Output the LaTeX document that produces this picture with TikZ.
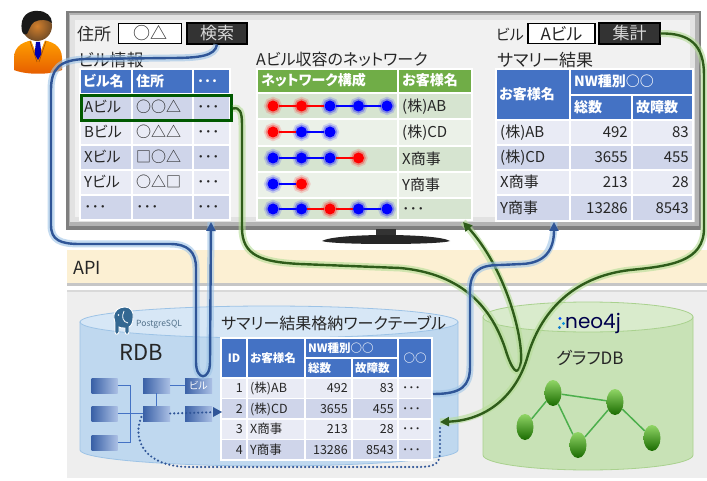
\documentclass[tikz,border=0pt]{standalone}
\usepackage{fontspec}
\setmainfont{Noto Sans CJK JP}[RawFeature=+palt]
\newfontfamily\logofont{Poppins}
\usetikzlibrary{arrows.meta,shapes.geometric,calc}
\newcommand\setfs[1]{\fontsize{#1}{#1}\selectfont}

\definecolor{hdrblue}{HTML}{4472C4}
\definecolor{rowdark}{HTML}{CFD5EA}
\definecolor{rowlight}{HTML}{E9EBF5}
\definecolor{hdrgreen}{HTML}{70AD47}
\definecolor{grndark}{HTML}{D6E4D0}
\definecolor{grnlight}{HTML}{EBF1E8}
\definecolor{wireblue}{HTML}{2F5597}
\definecolor{glowblue}{HTML}{9DC3E6}
\definecolor{wiregreen}{HTML}{2F5C1A}
\definecolor{glowgreen}{HTML}{B4DC96}
\definecolor{apibg}{HTML}{FCF0D3}
\definecolor{panelbg}{HTML}{EEEEEE}
\definecolor{screenbg}{HTML}{F1F1F1}
\definecolor{framegray}{HTML}{7F7F7F}
\definecolor{txt}{HTML}{262626}
\definecolor{btnbg}{HTML}{333333}
\definecolor{btntxt}{HTML}{D9D9D9}
\definecolor{dotred}{HTML}{FF0000}
\definecolor{dotblue}{HTML}{0000FF}
\definecolor{rdbbody}{HTML}{BFD8EF}
\definecolor{rdbtop}{HTML}{D7E7F6}
\definecolor{rdbline}{HTML}{9DC3E6}
\definecolor{gdbbody}{HTML}{C8E2B6}
\definecolor{gdbtop}{HTML}{D9EBCC}
\definecolor{gdbline}{HTML}{A9D18E}
\definecolor{pgblue}{HTML}{336791}

\begin{document}
\begin{tikzpicture}[x=1pt, y=-1pt,
  tx/.style={inner sep=0pt, text=txt},
  hd/.style={inner sep=0pt, text=white, font=\setfs{14}\bfseries},
  hds/.style={inner sep=0pt, text=white, font=\setfs{11.5}\bfseries},
  cellbg/.style={draw=white, line width=1.2pt},
  inbox/.style={draw=black, line width=1.6pt, fill=white, inner sep=0pt,
    minimum height=20pt, font=\setfs{17}, text=txt},
  btn/.style={draw=black, line width=1.2pt, fill=btnbg, text=btntxt, inner sep=0pt,
    minimum height=21pt, font=\setfs{17}},
  ndot/.style={circle, inner sep=0pt, minimum size=11pt, fill=dot#1,
    preaction={draw=dot#1, line width=7pt, opacity=.15},
    preaction={draw=dot#1, line width=3.5pt, opacity=.3}},
  seg/.style={draw=dot#1, line width=2.2pt},
  gnode/.style={ellipse, inner sep=0pt, minimum width=17pt, minimum height=26pt,
    top color=green!45!olive!60!white, bottom color=green!40!black!80!olive},
  gedge/.style={draw=green!55!black!70!white, line width=1.5pt},
  rbox/.style={inner sep=0pt, minimum width=26pt, minimum height=15pt,
    left color=hdrblue!85!black, right color=hdrblue!45!white},
  rline/.style={draw=hdrblue, line width=1pt},
  tipB/.style={-{Triangle[length=9pt,width=9pt]}},
  wireb/.style={draw=wireblue, line width=2.4pt, line join=round,
    preaction={draw=glowblue, line width=7pt, opacity=.6, arrows=-}},
  wireg/.style={draw=wiregreen, line width=2.4pt, line join=round,
    preaction={draw=glowgreen, line width=7pt, opacity=.6, arrows=-}},
  dotwire/.style={draw=wireblue, line width=2.4pt, line cap=round,
    dash pattern=on 0pt off 4pt}
]
\useasboundingbox (0,0) rectangle (707,481);
\fill[white] (0,0) rectangle (707,481);

% ---------- API band and lower panel ----------
\fill[apibg] (67,250) rectangle (707,283);
\fill[gray!45] (67,283) rectangle (707,286);
\fill[panelbg] (67,291) rectangle (707,478);
\fill[gray!30] (67,290) rectangle (707,292);
\node[tx, font=\setfs{18}, anchor=base west] (api) at (73,274) {API};

% ---------- monitor ----------
\fill[framegray] (66,11) rectangle (701,230);
\fill[gray!60] (69,13) rectangle (699,226);
\fill[screenbg] (70,15) rectangle (695,222);
\draw[black, opacity=.06, line width=5pt] (72.5,17.5) rectangle (692.5,219.5);
\fill[black!80] (376,229) rectangle (396,237);
\fill[black!85] (322,241) .. controls (335,233) and (437,233) .. (450,241)
  .. controls (440,245) and (332,245) .. (322,241) -- cycle;

% ---------- user icon ----------
\path[top color=orange!75!yellow, bottom color=orange!80!red!90!black]
  (14,70) -- (14,58) .. controls (14,46) and (24,40) .. (38,40)
  .. controls (52,40) and (62,46) .. (62,58) -- (62,70)
  .. controls (50,75) and (26,75) .. (14,70) -- cycle;
\fill[white] (31,40) -- (45,40) -- (38,58) -- cycle;
\fill[blue!70!black] (36,42) -- (40,42) -- (41.5,54) -- (38,60) -- (34.5,54) -- cycle;
\draw[orange!60!black, line width=.6pt] (30,41) -- (37,62) (46,41) -- (39,62);
\shade[inner color=brown!70!orange, outer color=brown!60!black] (37,26) circle (15);
\fill[black!90] (22,31) .. controls (19,16) and (29,10) .. (38,11)
  .. controls (46,11) and (52,16) .. (52,23) .. controls (47,19) and (40,19) .. (34,22)
  .. controls (31,24) and (29,30) .. (27,34) .. controls (24,35) and (23,34) .. cycle;

% ---------- search form ----------
\node[tx, font=\setfs{17}, anchor=base west] (lblAddr) at (77,41) {住所};
\node[inbox, minimum width=63pt] (inAddr) at (150,33.5) {○△};
\node[btn, minimum width=60pt] (btnSearch) at (217,33.5) {検索};
\node[tx, font=\setfs{17}, anchor=base west] (ttlBldg) at (78,66.5) {ビル情報};

% ---------- building table ----------
\foreach \xa/\xb in {80/132,132/193,193/230}
  \path[cellbg, fill=hdrblue] (\xa,69) rectangle (\xb,94);
\node[hd, anchor=base west] (bh1) at (83,86.5) {ビル名};
\node[hd, anchor=base west] (bh2) at (136,86.5) {住所};
\node[hd, anchor=base west] (bh3) at (197,86.5) {･･･};
\foreach \ya/\yb/\col/\ca/\cb/\cc [count=\r] in {
    94/120/rowdark/Aビル/○○△/･･･,
    120/145/rowlight/Bビル/○△△/･･･,
    145/170/rowdark/Xビル/□○△/･･･,
    170/195/rowlight/Yビル/○△□/･･･,
    195/220/rowdark/･･･/･･･/･･･}{
  \foreach \xa/\xb in {80/132,132/193,193/230}
    \path[cellbg, fill=\col] (\xa,\ya) rectangle (\xb,\yb);
  \node[tx, font=\setfs{15}, anchor=base west] (b\r-1) at (84,{(\ya+\yb)/2+5.5}) {\ca};
  \node[tx, font=\setfs{15}, anchor=base west] (b\r-2) at (136,{(\ya+\yb)/2+5.5}) {\cb};
  \node[tx, font=\setfs{15}, anchor=base west] (b\r-3) at (197,{(\ya+\yb)/2+5.5}) {\cc};
}
\node[draw=green!35!black, line width=3pt, inner sep=0pt, minimum width=150pt,
  minimum height=25pt, anchor=north west] (selA) at (80,94.5) {};

% ---------- network table ----------
\node[tx, font=\setfs{16}, anchor=base west] (ttlNet) at (256,66) {Aビル収容のネットワーク};
\path[cellbg, fill=hdrgreen] (257,69) rectangle (398,93);
\path[cellbg, fill=hdrgreen] (398,69) rectangle (472,93);
\node[hd, anchor=base west] (nh1) at (261,86) {ネットワーク構成};
\node[hd, anchor=base west] (nh2) at (402,86) {お客様名};
\foreach \ya/\yb/\col/\cn [count=\r] in {
    93/119/grndark/(株)AB,
    119/146/grnlight/(株)CD,
    146/172/grndark/X商事,
    172/198/grnlight/Y商事,
    198/220/grndark/･･･}{
  \path[cellbg, fill=\col] (257,\ya) rectangle (398,\yb);
  \path[cellbg, fill=\col] (398,\ya) rectangle (472,\yb);
  \node[tx, font=\setfs{15}, anchor=base west] (nc\r) at (402,{(\ya+\yb)/2+5.5}) {\cn};
}
\foreach \c [count=\k] in {red,red,blue,blue,blue}
  \node[ndot=\c] (n1-\k) at ({273+28.5*(\k-1)},106) {};
\foreach \c [count=\k] in {red,blue,blue}
  \node[ndot=\c] (n2-\k) at ({273+28.5*(\k-1)},132) {};
\foreach \c [count=\k] in {blue,blue,blue,red}
  \node[ndot=\c] (n3-\k) at ({273+28.5*(\k-1)},158) {};
\foreach \c [count=\k] in {blue,red}
  \node[ndot=\c] (n4-\k) at ({273+28.5*(\k-1)},184) {};
\foreach \c [count=\k] in {blue,blue,red,blue,blue}
  \node[ndot=\c] (n5-\k) at ({273+28.5*(\k-1)},209) {};
\draw[seg=red] (n1-1) -- (n1-2);  \draw[seg=red] (n1-2) -- (n1-3);
\draw[seg=blue] (n1-3) -- (n1-4); \draw[seg=blue] (n1-4) -- (n1-5);
\draw[seg=red] (n2-1) -- (n2-2);  \draw[seg=blue] (n2-2) -- (n2-3);
\draw[seg=blue] (n3-1) -- (n3-2); \draw[seg=blue] (n3-2) -- (n3-3);
\draw[seg=red] (n3-3) -- (n3-4);
\draw[seg=blue] (n4-1) -- (n4-2);
\draw[seg=blue] (n5-1) -- (n5-2); \draw[seg=red] (n5-2) -- (n5-3);
\draw[seg=red] (n5-3) -- (n5-4);  \draw[seg=blue] (n5-4) -- (n5-5);

% ---------- summary form and table ----------
\node[tx, font=\setfs{15}, anchor=base east] (lblBldg) at (524,40.5) {ビル};
\node[inbox, minimum width=67pt] (inBldg) at (561.5,33.5) {Aビル};
\node[btn, minimum width=61pt] (btnSum) at (629.5,33.5) {集計};
\node[tx, font=\setfs{17}, anchor=base west] (ttlSum) at (497,66.5) {サマリー結果};
\path[cellbg, fill=hdrblue] (496,69) rectangle (570,120);
\path[cellbg, fill=hdrblue] (570,69) rectangle (693,95);
\path[cellbg, fill=hdrblue] (570,95) rectangle (632,120);
\path[cellbg, fill=hdrblue] (632,95) rectangle (693,120);
\node[hd, anchor=base west] (sh1) at (499,99.5) {お客様名};
\node[hd, anchor=base west] (sh2) at (574,87) {NW種別○○};
\node[hd, anchor=base west] (sh3) at (574,112.5) {総数};
\node[hd, anchor=base west] (sh4) at (636,112.5) {故障数};
\foreach \ya/\yb/\col/\cn/\ct/\cf [count=\r] in {
    120/145/rowlight/(株)AB/492/83,
    145/170/rowdark/(株)CD/3655/455,
    170/195/rowlight/X商事/213/28,
    195/221/rowdark/Y商事/13286/8543}{
  \foreach \xa/\xb in {496/570,570/632,632/693}
    \path[cellbg, fill=\col] (\xa,\ya) rectangle (\xb,\yb);
  \node[tx, font=\setfs{15}, anchor=base west] (s\r-1) at (500,{(\ya+\yb)/2+5.5}) {\cn};
  \node[tx, font=\setfs{15}, anchor=base east] (s\r-2) at (628,{(\ya+\yb)/2+5.5}) {\ct};
  \node[tx, font=\setfs{15}, anchor=base east] (s\r-3) at (689,{(\ya+\yb)/2+5.5}) {\cf};
}

% ---------- RDB cylinder ----------
\path[fill=rdbbody, draw=rdbline, line width=.8pt] (80,322) -- (80,450)
  arc[start angle=180, end angle=0, x radius=189, y radius=16] -- (458,322) -- cycle;
\path[fill=rdbtop, draw=rdbline, line width=.8pt] (269,322) ellipse [x radius=189, y radius=16];
% PostgreSQL elephant
\filldraw[fill=pgblue, draw=white, line width=.9pt]
  (114,318) .. controls (113,310) and (120,307) .. (125,307)
  .. controls (131,307) and (134,312) .. (133,318)
  .. controls (133,323) and (131,326) .. (129,327) -- (129,332)
  .. controls (129,335) and (125,335) .. (125,332) -- (125,328)
  .. controls (122,328) and (120,328) .. (119,327) -- (119,332)
  .. controls (118,335) and (115,335) .. (115,332) -- (115,323) -- cycle;
\draw[white, line width=.8pt] (124,311) .. controls (121,317) and (123,322) .. (128,323);
\fill[white] (118.5,315) circle (.9);
\node[inner sep=0pt, font=\setfs{8.5}, text=pgblue!60!gray, anchor=west] (pglogo) at (136,324) {PostgreSQL};
\node[tx, font=\setfs{22}] (rdbLabel) at (141,352) {RDB};
\node[rbox] (rl1) at (104.5,385.5) {};
\node[rbox] (rl2) at (104.5,413.5) {};
\node[rbox] (rl3) at (104.5,442.5) {};
\node[rbox, minimum width=27pt] (rm1) at (156.5,385.5) {};
\node[rbox, minimum width=27pt] (rm2) at (156.5,413.5) {};
\node[rbox, minimum width=27pt, text=white, font=\setfs{10}] (rr1) at (198.5,385.5) {ビル};
\node[rbox, minimum width=27pt] (rr2) at (198.5,413.5) {};
\coordinate (busT) at (130,385.5);
\coordinate (busB) at (130,442.5);
\draw[rline] (rl1.east) -- (busT) -- (busB) -- (rl3.east);
\draw[rline] (rl2.east) -- (rm2.west);
\draw[rline] (rm1.south) -- (rm2.north);
\draw[rline] (rm1.east) -- (rr1.west);

% ---------- work table ----------
\node[tx, font=\setfs{16}, anchor=base west] (ttlWork) at (221,329) {サマリー結果格納ワークテーブル};
\path[cellbg, fill=hdrblue] (221,338) rectangle (247,378);
\path[cellbg, fill=hdrblue] (247,338) rectangle (305,378);
\path[cellbg, fill=hdrblue] (305,338) rectangle (398,358);
\path[cellbg, fill=hdrblue] (305,358) rectangle (352,378);
\path[cellbg, fill=hdrblue] (352,358) rectangle (398,378);
\path[cellbg, fill=hdrblue] (398,338) rectangle (432,378);
\node[hds, anchor=base] (wh1) at (234,362) {ID};
\node[hds, anchor=base west] (wh2) at (250,362) {お客様名};
\node[hds, anchor=base west] (wh3) at (308,352) {NW種別○○};
\node[hds, anchor=base west] (wh4) at (308,372) {総数};
\node[hds, anchor=base west] (wh5) at (355,372) {故障数};
\node[hds, anchor=base] (wh6) at (415,362) {○○};
\foreach \ya/\col/\ci/\cn/\ct/\cf [count=\r] in {
    378/rowlight/1/(株)AB/492/83,
    398.5/rowdark/2/(株)CD/3655/455,
    419/rowlight/3/X商事/213/28,
    439.5/rowdark/4/Y商事/13286/8543}{
  \foreach \xa/\xb in {221/247,247/305,305/352,352/398,398/432}
    \path[cellbg, fill=\col] (\xa,\ya) rectangle (\xb,\ya+20.5);
  \node[tx, font=\setfs{12.5}, anchor=base east] (w\r-1) at (243,\ya+14.5) {\ci};
  \node[tx, font=\setfs{12.5}, anchor=base west] (w\r-2) at (250,\ya+14.5) {\cn};
  \node[tx, font=\setfs{12.5}, anchor=base east] (w\r-3) at (348,\ya+14.5) {\ct};
  \node[tx, font=\setfs{12.5}, anchor=base east] (w\r-4) at (394,\ya+14.5) {\cf};
  \node[tx, font=\setfs{12.5}, anchor=base west] (w\r-5) at (402,\ya+14.5) {･･･};
}

% ---------- graph DB cylinder ----------
\path[fill=gdbbody, draw=gdbline, line width=.8pt] (483,317) -- (483,455)
  arc[start angle=180, end angle=0, x radius=105, y radius=15] -- (693,317) -- cycle;
\path[fill=gdbtop, draw=gdbline, line width=.8pt] (588,317) ellipse [x radius=105, y radius=15];
\fill[blue!70!cyan] (560,318.5) circle (1.6);
\fill[cyan!80!blue] (563.5,323.5) circle (1.6);
\fill[cyan!60!blue] (559.5,327.5) circle (1.6);
\node[inner sep=0pt, font=\logofont\setfs{20}, text=blue!30!black, anchor=base west] (neo) at (565,328) {neo4j};
\node[tx, font=\setfs{17}] (gdbLabel) at (590,358) {グラフDB};
\node[gnode] (g1) at (553,393) {};
\node[gnode] (g2) at (615,402) {};
\node[gnode] (g3) at (525,427) {};
\node[gnode] (g4) at (578,445) {};
\node[gnode] (g5) at (652,438) {};
\draw[gedge] (g1) -- (g2);
\draw[gedge] (g1) -- (g3);
\draw[gedge] (g1) -- (g4);
\draw[gedge] (g4) -- (g2);
\draw[gedge] (g2) -- (g5);

% ---------- connector end points ----------
\coordinate (bldgIn) at (211,222);
\coordinate (netIn) at (463,222);
\coordinate (sumIn) at (554,222);
\coordinate (workIn) at (440,422);
\coordinate (workOut) at (433,394);
\coordinate (workRow2) at (220,412);

% ---------- data flow ----------
\draw[dotwire] (440,428) -- (440,452) .. controls (440,466) and (432,467) .. (415,467)
  -- (190,467) .. controls (145,467) and (130,440) .. (rm2.west);
\draw[dotwire] (rm2.east) -- (workRow2);
\fill[wireblue] (workRow2) ++(2,0) -- ++(-9,-5) -- ++(0,10) -- cycle;

\draw[wireb, tipB] (btnSearch.south) .. controls (215,56) and (200,58) .. (170,58)
  -- (85,59) .. controls (60,60) and (51,68) .. (51,90) -- (51,225)
  .. controls (51,240) and (60,244) .. (80,244) -- (170,244)
  .. controls (188,244) and (196,252) .. (196,268) -- (196,362)
  .. controls (196,381) and (210,381) .. (210,362) -- (bldgIn);

\draw[wireg, tipB] (selA.east) .. controls (240,107) and (242,112) .. (242,125)
  -- (242,228) .. controls (242,256) and (262,262) .. (300,264) -- (400,268)
  .. controls (465,274) and (492,310) .. (505,348)
  .. controls (511,368) and (518,380) .. (521,362)
  .. controls (523,335) and (505,268) .. (netIn);

\draw[wireg, tipB] (btnSum.east) .. controls (690,33) and (704,45) .. (704,75)
  -- (704,228) .. controls (704,262) and (670,266) .. (630,270)
  .. controls (570,277) and (540,315) .. (528,355)
  .. controls (518,392) and (490,420) .. (workIn);

\draw[wireb, tipB] (workOut) .. controls (462,394) and (470,386) .. (470,366)
  -- (470,292) .. controls (470,272) and (478,265) .. (500,265) -- (522,264)
  .. controls (545,263) and (554,250) .. (sumIn);
\end{tikzpicture}
\end{document}
